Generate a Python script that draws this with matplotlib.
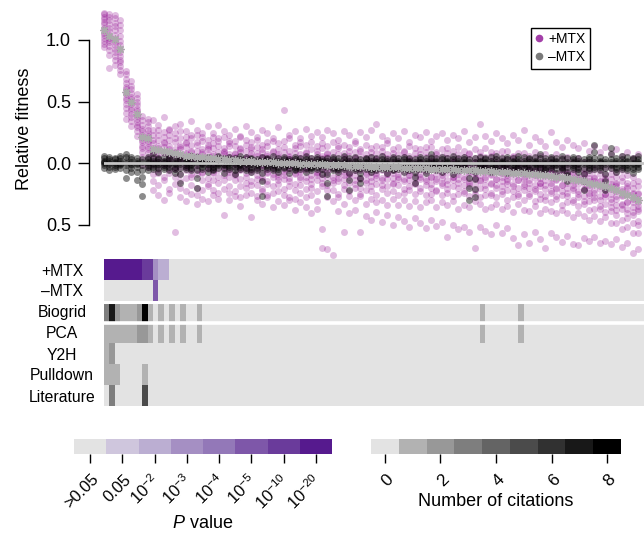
import numpy as np
import matplotlib
matplotlib.use("Agg")
import matplotlib.pyplot as plt
from matplotlib.colors import ListedColormap, BoundaryNorm
from matplotlib.lines import Line2D
from matplotlib.transforms import blended_transform_factory, ScaledTranslation

plt.rcParams['font.family'] = ['Liberation Sans', 'DejaVu Sans']
plt.rcParams['mathtext.fontset'] = 'custom'
plt.rcParams['mathtext.rm'] = 'Liberation Sans'
plt.rcParams['mathtext.it'] = 'Liberation Sans:italic'

# ---------------- data (relative fitness, in hundredths) ----------------
plus_mtx_x100 = [
    [122, 121, 119, 117, 115, 113, 110, 108, 106, 104, 102, 99, 97, 94],
    [121, 119, 116, 113, 110, 107, 104, 102, 100, 98, 95, 92, 88, 77],
    [120, 118, 114, 111, 108, 104, 101, 98, 96, 93, 90, 87, 84, 80],
    [116, 112, 108, 103, 99, 96, 93, 90, 87, 84, 82, 79, 76, 72],
    [75, 72, 68, 65, 62, 60, 58, 56, 53, 51, 48, 45, 41, 36],
    [67, 63, 60, 57, 54, 52, 50, 48, 45, 43, 40, 37, 34, 30],
    [56, 53, 50, 47, 44, 42, 40, 38, 36, 33, 31, 29, 26, 22],
    [38, 35, 31, 28, 26, 23, 21, 19, 17, 14, 12, 9, 5, -2],
    [36, 33, 30, 27, 24, 22, 20, 18, 16, 13, 11, 8, 4, -3],
    [35, 27, 23, 19, 16, 12, 10, 7, 4, 1, -2, -9, -15, -22],
    [31, 27, 23, 19, 14, 12, 10, 7, 4, 1, -5, -8, -18, -26],
    [37, 25, 21, 17, 16, 13, 9, 8, 2, -1, -2, -11, -14, -30],
    [28, 27, 23, 19, 14, 11, 7, 4, 3, 0, -5, -8, -21, -24],
    [30, 24, 20, 17, 11, 9, 8, 5, 1, -4, -5, -11, -17, -56],
    [32, 26, 20, 15, 13, 11, 6, 3, 2, -3, -9, -15, -20, -28],
    [26, 21, 16, 17, 13, 8, 7, 4, -2, -3, -6, -12, -23, -31],
    [34, 23, 20, 15, 10, 9, 5, 1, 0, -5, -9, -11, -18, -25],
    [27, 23, 17, 15, 10, 6, 5, 2, -2, -5, -9, -20, -26, -33],
    [24, 21, 18, 11, 9, 7, 3, 1, -1, -7, -8, -14, -22, -29],
    [30, 19, 15, 13, 11, 7, 3, 2, -4, -5, -12, -17, -19, -31],
    [24, 21, 16, 12, 7, 6, 4, -1, -3, -7, -8, -14, -22, -26],
    [31, 20, 18, 14, 9, 5, 3, 1, 0, -6, -11, -16, -24, -29],
    [26, 21, 12, 10, 9, 7, 4, -1, -3, -5, -10, -14, -21, -42],
    [23, 18, 16, 14, 7, 5, 2, 1, -6, -7, -11, -19, -24, -30],
    [28, 18, 14, 8, 7, 5, 2, -1, -3, -9, -10, -14, -23, -27],
    [22, 21, 12, 11, 9, 3, 0, -2, -5, -6, -13, -19, -28, -35],
    [30, 19, 15, 10, 5, 4, 3, -3, -4, -8, -11, -16, -20, -26],
    [25, 17, 13, 11, 8, 6, 1, -1, -6, -7, -15, -18, -24, -44],
    [21, 19, 13, 8, 6, 2, 1, -3, -5, -10, -13, -18, -27, -30],
    [27, 15, 11, 9, 5, 4, -1, -2, -6, -11, -14, -21, -23, -33],
    [24, 17, 14, 7, 6, 3, 0, -4, -7, -8, -15, -17, -26, -28],
    [20, 18, 10, 9, 4, 2, 1, -3, -5, -9, -11, -19, -24, -36],
    [29, 16, 11, 7, 6, 2, -1, -3, -9, -11, -14, -17, -23, -31],
    [43, 18, 13, 9, 4, 1, 0, -5, -7, -10, -13, -21, -26, -34],
    [23, 20, 10, 6, 5, 3, -2, -4, -6, -12, -15, -19, -28, -30],
    [26, 15, 12, 8, 3, 2, 0, -3, -8, -9, -17, -22, -29, -38],
    [20, 17, 14, 7, 4, 1, -1, -6, -7, -11, -13, -18, -24, -32],
    [28, 15, 9, 8, 5, 1, -3, -5, -6, -11, -15, -21, -28, -36],
    [22, 17, 11, 4, 2, 0, -1, -4, -10, -13, -17, -20, -26, -41],
    [25, 14, 10, 7, 3, 1, -2, -7, -8, -10, -14, -23, -31, -37],
    [21, 16, 12, 6, 4, 0, -3, -5, -9, -12, -16, -19, -54, -69],
    [27, 14, 8, 7, 5, 2, -1, -6, -7, -11, -18, -22, -28, -70],
    [24, 17, 9, 4, 2, 0, -3, -5, -11, -14, -16, -22, -31, -75],
    [19, 14, 12, 7, 1, -1, -2, -6, -9, -12, -15, -25, -28, -39],
    [26, 15, 8, 5, 3, 0, -4, -7, -10, -13, -18, -21, -33, -56],
    [23, 13, 10, 6, 2, 1, -3, -8, -9, -11, -16, -23, -27, -41],
    [18, 16, 9, 4, 4, -1, -2, -6, -10, -14, -17, -20, -30, -38],
    [25, 11, 10, 6, 0, -1, -5, -6, -12, -13, -20, -25, -27, -56],
    [21, 15, 7, 4, 2, -2, -3, -8, -9, -14, -16, -22, -33, -43],
    [27, 12, 9, 5, 1, 0, -4, -7, -11, -15, -19, -23, -29, -46],
    [32, 14, 8, 3, 3, -1, -5, -8, -10, -12, -17, -26, -32, -40],
    [22, 13, 10, 6, 0, -2, -3, -6, -12, -14, -18, -21, -30, -48],
    [19, 16, 7, 4, 2, -1, -4, -9, -9, -13, -19, -24, -34, -42],
    [24, 11, 8, 4, 0, -1, -6, -8, -12, -16, -17, -23, -29, -50],
    [20, 13, 7, 2, 1, -3, -4, -9, -11, -13, -18, -26, -34, -44],
    [26, 10, 9, 5, -1, -2, -5, -7, -13, -15, -21, -24, -30, -47],
    [17, 14, 6, 3, 2, -3, -6, -10, -10, -14, -19, -22, -35, -52],
    [23, 12, 8, 4, 0, -2, -4, -8, -12, -16, -17, -25, -31, -45],
    [21, 11, 7, 2, 1, -1, -5, -9, -11, -13, -20, -23, -36, -49],
    [25, 13, 9, 5, -1, -3, -6, -7, -13, -15, -18, -26, -32, -53],
    [18, 13, 5, 2, 1, -3, -5, -11, -11, -17, -20, -25, -30, -46],
    [22, 9, 7, 3, -1, -2, -6, -9, -13, -15, -22, -23, -36, -51],
    [24, 11, 6, 1, 0, -4, -7, -10, -12, -16, -18, -26, -32, -48],
    [19, 12, 8, 4, -2, -3, -5, -8, -14, -17, -21, -24, -34, -60],
    [23, 10, 5, 2, 1, -2, -6, -11, -11, -14, -19, -27, -31, -50],
    [20, 13, 7, 3, -1, -4, -7, -9, -13, -16, -20, -25, -37, -54],
    [26, 10, 5, 0, -1, -4, -6, -11, -13, -18, -23, -24, -34, -52],
    [17, 8, 7, 3, -3, -3, -7, -9, -15, -16, -19, -27, -36, -56],
    [21, 11, 4, 1, 0, -5, -8, -12, -12, -17, -22, -25, -31, -69],
    [32, 9, 6, 2, -2, -4, -6, -10, -14, -15, -20, -28, -33, -52],
    [22, 12, 5, 0, -1, -3, -7, -11, -13, -18, -21, -26, -37, -55],
    [18, 9, 6, 2, -4, -6, -9, -10, -16, -17, -24, -26, -36, -58],
    [24, 8, 3, 0, -1, -5, -7, -13, -13, -18, -20, -28, -33, -50],
    [20, 10, 5, 1, -3, -4, -8, -11, -15, -19, -23, -25, -37, -57],
    [16, 10, 3, -2, -3, -7, -10, -13, -15, -17, -22, -30, -35, -53],
    [23, 6, 5, 1, -5, -6, -8, -11, -17, -19, -23, -28, -40, -61],
    [19, 8, 2, -1, -2, -5, -9, -14, -14, -20, -25, -27, -33, -67],
    [27, 8, 3, -1, -5, -8, -11, -13, -17, -19, -22, -30, -38, -58],
    [15, 6, 2, -3, -4, -7, -9, -14, -16, -20, -25, -27, -39, -65],
    [21, 9, 4, 0, -6, -6, -10, -12, -18, -21, -23, -31, -35, -56],
    [18, 6, 0, -3, -4, -9, -12, -16, -16, -19, -25, -29, -41, -62],
    [14, 7, 2, -2, -6, -8, -10, -14, -18, -21, -27, -30, -37, -69],
    [25, 4, 0, -5, -6, -8, -12, -16, -18, -23, -24, -32, -39, -57],
    [17, 7, 2, -2, -8, -10, -13, -14, -20, -21, -27, -29, -41, -60],
    [13, 4, -2, -5, -6, -10, -12, -18, -18, -23, -26, -34, -38, -64],
    [19, 5, 0, -4, -8, -9, -13, -16, -20, -24, -27, -32, -41, -59],
    [15, 2, -2, -7, -8, -12, -15, -18, -20, -22, -30, -32, -44, -66],
    [12, 4, -1, -5, -11, -12, -14, -17, -23, -25, -28, -35, -41, -67],
    [16, 1, -5, -8, -9, -12, -16, -21, -21, -27, -31, -33, -43, -61],
    [10, 1, -4, -8, -12, -15, -18, -20, -24, -26, -31, -38, -46, -63],
    [14, -2, -6, -11, -12, -15, -17, -22, -24, -28, -30, -37, -43, -60],
    [9, 0, -5, -9, -15, -15, -19, -21, -27, -30, -35, -37, -47, -65],
    [13, -3, -9, -12, -13, -18, -21, -25, -25, -28, -33, -40, -44, -63],
    [8, -4, -9, -13, -17, -19, -21, -25, -29, -32, -36, -39, -49, -66],
    [11, -7, -11, -16, -17, -19, -23, -27, -29, -34, -38, -42, -49, -62],
    [6, -6, -11, -15, -21, -23, -26, -27, -33, -34, -37, -46, -54, -68],
    [9, -10, -16, -19, -20, -24, -26, -32, -32, -37, -41, -45, -52, -65],
    [4, -11, -16, -20, -24, -25, -29, -32, -36, -40, -42, -49, -57, -73],
    [7, -15, -19, -24, -25, -29, -32, -35, -37, -39, -47, -50, -57, -70],
]

minus_mtx_x100 = [
    [6, 4, 2, 1, 0, -2, -4], [5, 3, 2, 0, -1, -3, -6], [4, 3, 1, 0, -2, -3, -5],
    [6, 4, 2, 0, -1, -2, -4], [7, 5, 2, 0, -2, -6, -12], [5, 3, 1, -1, -2, -4, -7],
    [4, 2, 0, -1, -3, -7, -14], [3, 1, -2, -6, -11, -17, -27], [5, 3, 1, 0, -2, -3, -6],
    [8, 4, 2, 0, -1, -3, -5], [4, 3, 1, -1, -2, -4, -7], [5, 2, 1, 0, -2, -3, -5],
    [6, 4, 2, 0, -1, -3, -6], [4, 2, 0, -1, -3, -5, -8], [5, 3, 1, -1, -4, -9, -16],
    [4, 2, 1, 0, -2, -3, -5], [6, 3, 1, -1, -2, -4, -6], [5, 2, 0, -2, -6, -12, -20],
    [4, 3, 1, 0, -1, -3, -5], [5, 2, 1, -1, -2, -4, -7], [3, 2, 0, -1, -3, -5, -6],
    [6, 4, 2, 0, -1, -2, -4], [4, 2, 1, -1, -2, -4, -8], [5, 3, 1, 0, -2, -3, -5],
    [4, 2, 0, -1, -3, -6, -9], [6, 3, 1, -1, -2, -3, -5], [5, 2, 1, 0, -1, -4, -6],
    [4, 3, 1, -1, -3, -5, -7], [3, 2, 0, -1, -2, -4, -6], [5, 2, 0, -3, -8, -15, -27],
    [4, 3, 1, 0, -2, -3, -5], [6, 2, 1, -1, -2, -4, -6], [4, 2, 0, -1, -3, -5, -7],
    [5, 3, 1, 0, -1, -3, -4], [3, 2, 1, -1, -2, -4, -8], [5, 3, 0, -1, -3, -5, -6],
    [4, 2, 1, 0, -2, -3, -5], [6, 3, 1, -1, -2, -4, -7], [4, 2, 0, -1, -3, -4, -6],
    [5, 3, 1, 0, -1, -3, -5], [3, 2, 1, -1, -2, -5, -9], [4, 2, 0, -3, -9, -16, -27],
    [5, 3, 1, -1, -2, -4, -6], [4, 2, 0, -1, -3, -5, -7], [6, 3, 1, 0, -2, -3, -5],
    [4, 2, 0, -3, -8, -14, -22], [5, 2, 1, -1, -2, -4, -6], [3, 1, -1, -4, -8, -12, -16],
    [4, 3, 1, 0, -2, -3, -5], [5, 2, 0, -1, -3, -5, -7], [4, 2, 1, -1, -2, -4, -6],
    [6, 3, 1, 0, -1, -3, -5], [3, 2, 0, -1, -3, -4, -8], [5, 3, 1, -1, -2, -5, -6],
    [4, 2, 0, 0, -2, -3, -5], [5, 3, 1, -1, -3, -4, -7], [4, 2, 1, -1, -2, -4, -6],
    [3, 1, -1, -4, -7, -11, -16], [5, 3, 1, 0, -2, -3, -5], [4, 2, 0, -1, -3, -5, -8],
    [7, 4, 2, 0, -1, -3, -5], [4, 2, 1, -1, -2, -4, -6], [5, 3, 0, -1, -3, -4, -7],
    [4, 2, 1, 0, -2, -3, -5], [6, 3, 1, -1, -2, -5, -9], [4, 2, 0, -1, -3, -4, -6],
    [5, 3, 1, 0, -1, -3, -5], [3, 1, -2, -6, -12, -20, -30], [4, 1, -2, -7, -13, -21, -28],
    [5, 2, 1, -1, -2, -4, -6], [4, 3, 1, 0, -2, -3, -5], [5, 2, 0, -1, -3, -5, -7],
    [6, 3, 1, -1, -2, -4, -6], [4, 2, 1, 0, -1, -3, -5], [5, 3, 0, -1, -3, -5, -8],
    [4, 2, 1, -1, -2, -4, -6], [6, 3, 1, 0, -2, -3, -5], [5, 2, 0, -1, -3, -4, -7],
    [4, 3, 1, -1, -2, -5, -6], [5, 2, 1, 0, -1, -3, -5], [7, 4, 1, -1, -2, -4, -7],
    [4, 2, 0, -1, -3, -5, -6], [5, 3, 1, 0, -2, -3, -5], [4, 2, 1, -1, -2, -4, -8],
    [6, 3, 0, -1, -3, -4, -6], [4, 1, -1, -3, -7, -10, -15], [5, 3, 1, 0, -2, -3, -5],
    [4, 2, 0, -1, -3, -5, -7], [3, 1, -1, -4, -9, -15, -22], [5, 3, 1, -1, -2, -4, -6],
    [15, 9, 4, 1, -1, -3, -5], [5, 2, 1, 0, -2, -3, -6], [3, 1, -1, -4, -9, -15, -22],
    [12, 7, 3, 1, -1, -2, -4], [4, 2, 0, -1, -3, -5, -7], [6, 3, 1, 0, -2, -3, -5],
    [5, 2, 1, -1, -2, -4, -6], [4, 3, 0, -1, -3, -5, -8], [6, 3, 1, 0, -1, -3, -5],
]

# +MTX mean relative fitness per gene (grey stars)
plus_mtx_mean = [
    1.08, 1.03, 1.01, 0.93, 0.58, 0.50, 0.40, 0.21, 0.20, 0.115,
    0.105, 0.10, 0.09, 0.08, 0.07, 0.06, 0.055, 0.05, 0.045, 0.042,
    0.038, 0.035, 0.03, 0.027, 0.024, 0.02, 0.018, 0.015, 0.012, 0.01,
    0.008, 0.006, 0.004, 0.002, 0.0, -0.002, -0.004, -0.006, -0.008, -0.01,
    -0.012, -0.014, -0.016, -0.018, -0.02, -0.022, -0.024, -0.026, -0.028, -0.03,
    -0.031, -0.032, -0.034, -0.035, -0.036, -0.038, -0.039, -0.04, -0.042, -0.043,
    -0.045, -0.046, -0.048, -0.05, -0.051, -0.053, -0.055, -0.057, -0.059, -0.061,
    -0.063, -0.066, -0.069, -0.072, -0.075, -0.078, -0.081, -0.085, -0.089, -0.093,
    -0.097, -0.10, -0.105, -0.11, -0.115, -0.12, -0.13, -0.14, -0.15, -0.16,
    -0.17, -0.18, -0.19, -0.205, -0.22, -0.24, -0.26, -0.28, -0.30,
]

# P-value level per gene (0: >0.05 ... 7: 1e-20)
pval_plus_mtx = [7] * 7 + [6, 6, 3, 2, 2] + [0] * 87
pval_minus_mtx = [0] * 9 + [5] + [0] * 89

# number of citations per gene
cit_biogrid = [3, 7, 2, 1, 1, 1, 2, 8, 1, 0, 1, 0, 1, 0, 1, 0, 0, 1] + [0] * 51 + [1] + [0] * 6 + [1] + [0] * 22
cit_pca = [1, 1, 1, 1, 1, 1, 2, 2, 1, 0, 1, 0, 1, 0, 1, 0, 0, 1] + [0] * 51 + [1] + [0] * 6 + [1] + [0] * 22
cit_y2h = [1, 2] + [0] * 97
cit_pulldown = [1, 1, 1, 0, 0, 0, 0, 1] + [0] * 91
cit_literature = [0, 3, 0, 0, 0, 0, 0, 5] + [0] * 91

row_labels = ['+MTX', '\u2013MTX', 'Biogrid', 'PCA', 'Y2H', 'Pulldown', 'Literature']
pval_tick_labels = ['>0.05', '0.05', r'$10^{-2}$', r'$10^{-3}$', r'$10^{-4}$',
                    r'$10^{-5}$', r'$10^{-10}$', r'$10^{-20}$']
cit_ticks = [0, 2, 4, 6, 8]
ytick_vals = [1.0, 0.5, 0.0, -0.5]
ytick_labels = ['1.0', '0.5', '0.0', '0.5']

# ---------------- styling ----------------
p_colors = ['#e3e3e3', '#cfc6dd', '#bbaed2', '#a58fc3', '#9378b8', '#7e57a9', '#6a3b9b', '#561a8e']
c_colors = ['#e3e3e3', '#b2b2b2', '#989898', '#7e7e7e', '#646464', '#4b4b4b', '#313131', '#181818', '#000000']
p_cmap = ListedColormap(p_colors)
c_cmap = ListedColormap(c_colors)
p_norm = BoundaryNorm(np.arange(-0.5, 8.5, 1), 8)
c_norm = BoundaryNorm(np.arange(-0.5, 9.5, 1), 9)

W, H = 644, 534
fig = plt.figure(figsize=(W / 100, H / 100), dpi=100)

def px_axes(x0, y0, x1, y1):
    return fig.add_axes([x0 / W, 1 - y1 / H, (x1 - x0) / W, (y1 - y0) / H])

n_genes = len(plus_mtx_mean)
X0, X1 = 104, 643.5

# ---- scatter panel ----
ax = px_axes(X0, 0, X1, 258)
ax.set_xlim(0, n_genes)
ax.set_ylim(-0.772, 1.325)

px_x = np.concatenate([[i] * len(v) for i, v in enumerate(plus_mtx_x100)])
px_y = np.concatenate(plus_mtx_x100) / 100.0
mx_x = np.concatenate([[i] * len(v) for i, v in enumerate(minus_mtx_x100)])
mx_y = np.concatenate(minus_mtx_x100) / 100.0

ax.scatter(px_x, px_y, s=25, color='#8b008b', alpha=0.26, linewidths=0, clip_on=False, zorder=2)
ax.scatter(mx_x, mx_y, s=25, color='black', alpha=0.45, linewidths=0, clip_on=False, zorder=3)
ax.axhline(0, color='#c4c4c4', lw=2, zorder=4)
ax.plot(np.arange(n_genes), plus_mtx_mean, linestyle='none', marker=(8, 2, 0),
        markersize=6, markeredgewidth=0.9, color='#ababab', zorder=5, clip_on=False)

for s in ['top', 'right', 'bottom']:
    ax.spines[s].set_visible(False)
ax.spines['left'].set_position(('outward', 10.8))
ax.spines['left'].set_bounds(-0.5, 1.0)
ax.spines['left'].set_linewidth(1.0)
ax.set_xticks([])
ax.set_yticks(ytick_vals)
ax.set_yticklabels(ytick_labels, fontsize=13)
ax.tick_params(axis='y', length=8, width=1.0, pad=5)
ax.set_ylabel('Relative fitness', fontsize=13)
ax.yaxis.set_label_coords(-0.131, 0.5)
ax.patch.set_alpha(0)

handles = [Line2D([], [], linestyle='none', marker='o', markersize=4.5, color='#a33fa8'),
           Line2D([], [], linestyle='none', marker='o', markersize=4.5, color='#7a7a7a')]
leg = fig.legend(handles, ['+MTX', '\u2013MTX'], loc='upper left',
                 bbox_to_anchor=(531 / W, 1 - 28 / H), fontsize=10, frameon=True,
                 fancybox=False, edgecolor='black', framealpha=1,
                 handlelength=0.6, handletextpad=0.35, borderpad=0.3,
                 labelspacing=0.3, borderaxespad=0)
leg.get_frame().set_linewidth(1.0)

# ---- heatmap panel ----
axh = px_axes(X0, 259, X1, 406)
xe = np.arange(n_genes + 1)
axh.pcolormesh(xe, [0, 1, 2], np.array([pval_plus_mtx, pval_minus_mtx]),
               cmap=p_cmap, norm=p_norm)
axh.pcolormesh(xe, [2, 3, 4, 5, 6, 7],
               np.array([cit_biogrid, cit_pca, cit_y2h, cit_pulldown, cit_literature]),
               cmap=c_cmap, norm=c_norm)
axh.set_xlim(0, n_genes)
axh.set_ylim(7, 0)
axh.axhline(2.05, color='white', lw=2.2)
axh.axhline(3.05, color='white', lw=2.6)
for s in axh.spines.values():
    s.set_visible(False)
axh.set_xticks([])
axh.set_yticks(np.arange(len(row_labels)) + 0.5)
axh.set_yticklabels(row_labels, fontsize=11.3)
axh.tick_params(axis='y', length=0, pad=30.2)
for t in axh.get_yticklabels():
    t.set_horizontalalignment('center')

# ---- colour keys ----
def key_axes(x0, x1, colors, cmap, norm, ticks, labels, xlabel, label_y, plain_off, math_off, fs):
    k = px_axes(x0, 439, x1, 454)
    k.pcolormesh(np.arange(len(colors) + 1) - 0.5, [0, 1],
                 np.arange(len(colors))[None, :], cmap=cmap, norm=norm)
    k.set_xlim(-0.5, len(colors) - 0.5)
    k.set_ylim(0, 1)
    k.set_yticks([])
    k.set_xticks(ticks)
    k.set_xticklabels([])
    k.tick_params(axis='x', length=6.2, width=1.0)
    for s in k.spines.values():
        s.set_visible(False)
    base = blended_transform_factory(k.transData, k.transAxes)
    for t, lab in zip(ticks, labels):
        dx, dy = math_off if lab.startswith('$') else plain_off
        off = ScaledTranslation(dx / 100, -dy / 100, fig.dpi_scale_trans)
        k.text(t, 0, lab, transform=base + off, fontsize=fs, rotation=45,
               ha='right', va='center', rotation_mode='anchor')
    k.text(0.5, -(label_y - 454) / 15, xlabel, transform=k.transAxes,
           fontsize=13, ha='center', va='center')
    return k

axp = key_axes(74, 332, p_colors, p_cmap, p_norm, list(range(len(p_colors))),
               pval_tick_labels, '$P$ value', 524, (6, 23), (2, 24), 11.8)
axc = key_axes(371, 621, c_colors, c_cmap, c_norm, cit_ticks,
               [str(t) for t in cit_ticks], 'Number of citations', 501, (6, 23), (6, 23), 12.3)

fig.savefig('out.png', dpi=100)
